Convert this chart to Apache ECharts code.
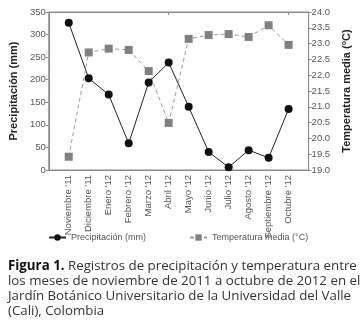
<!DOCTYPE html>
<html>
<head>
<meta charset="utf-8">
<script src="https://cdn.jsdelivr.net/npm/echarts@6/dist/echarts.min.js"></script>
<style>
  html, body { margin: 0; padding: 0; background: #fff; }
  #chart { width: 360px; height: 328px; }
</style>
</head>
<body>
<div id="chart"></div>
<script>
var months = ["Noviembre '11", "Diciembre '11", "Enero '12", "Febrero '12", "Marzo '12", "Abril '12",
              "Mayo '12", "Junio '12", "Julio '12", "Agosto '12", "Septiembre '12", "Octubre '12"];
var precipitacion = [326, 203, 167, 59, 194, 238, 140, 40, 6, 44, 27, 135];
var temperatura = [19.42, 22.72, 22.84, 22.80, 22.13, 20.49, 23.15, 23.27, 23.30, 23.21, 23.58, 22.96];

// one empty slot on each side, like the original plot
var xData = [''].concat(months, ['']);
var precData = [null].concat(precipitacion, [null]);
var tempData = [null].concat(temperatura, [null]);

var chart = echarts.init(document.getElementById('chart'));
var grey = '#8a8a8a';
var labelColor = '#555';

var option = {
  animation: false,
  textStyle: { fontFamily: 'Liberation Sans, Arial, sans-serif' },
  grid: { left: 40, right: 43, top: 12, bottom: 158, show: true, borderColor: grey, borderWidth: 1 },
  legend: {
    bottom: 81, left: 43, itemGap: 43, itemWidth: 17, itemHeight: 8,
    textStyle: { fontSize: 9, color: labelColor },
    data: ['Precipitación (mm)', 'Temperatura media (°C)']
  },
  xAxis: [{
    type: 'category', data: xData, boundaryGap: false,
    axisLine: { lineStyle: { color: grey } },
    axisTick: { show: false },
    axisLabel: { rotate: 90, fontSize: 9.5, color: labelColor, interval: 0, margin: 5 }
  }, {
    type: 'category', data: xData, boundaryGap: false, position: 'top',
    axisLine: { lineStyle: { color: grey } },
    axisTick: { inside: true, length: 3, lineStyle: { color: grey } },
    axisLabel: { show: false }
  }],
  yAxis: [{
    type: 'value', min: 0, max: 350, interval: 50,
    name: 'Precipitación (mm)', nameLocation: 'middle', nameGap: 22,
    nameTextStyle: { fontSize: 11, fontWeight: 'bold', color: '#222' },
    axisLine: { show: true, lineStyle: { color: grey } },
    axisTick: { show: true, length: 3, lineStyle: { color: grey } },
    axisLabel: { fontSize: 9.5, color: labelColor, margin: 3 },
    splitLine: { show: false }
  }, {
    type: 'value', min: 19, max: 24, interval: 0.5, position: 'right',
    name: 'Temperatura media (°C)', nameLocation: 'middle', nameGap: 25,
    nameTextStyle: { fontSize: 11, fontWeight: 'bold', color: '#222' },
    axisLine: { show: true, lineStyle: { color: grey } },
    axisTick: { show: true, length: 3, lineStyle: { color: grey } },
    axisLabel: { fontSize: 9.5, color: labelColor, margin: 3, formatter: function (v) { return v.toFixed(1); } },
    splitLine: { show: false }
  }],
  series: [{
    name: 'Precipitación (mm)', type: 'line', yAxisIndex: 0, data: precData,
    symbol: 'circle', symbolSize: 8,
    itemStyle: { color: '#111' },
    lineStyle: { color: '#222', width: 1 }
  }, {
    name: 'Temperatura media (°C)', type: 'line', yAxisIndex: 1, data: tempData,
    symbol: 'rect', symbolSize: 8,
    itemStyle: { color: '#808080' },
    lineStyle: { color: '#999', width: 1, type: [4, 3] }
  }],
  title: {
    left: 3, top: 254,
    text: '{b|Figura 1.} Registros de precipitación y temperatura entre\n' +
          'los meses de noviembre de 2011 a octubre de 2012 en el\n' +
          'Jardín Botánico Universitario de la Universidad del Valle\n' +
          '(Cali), Colombia',
    textStyle: {
      fontFamily: 'Open Sans', fontSize: 13.3, fontWeight: 'normal', color: '#333', lineHeight: 15,
      rich: { b: { fontFamily: 'Open Sans', fontSize: 13.3, fontWeight: 'bold', color: '#111', lineHeight: 15 } }
    }
  }
};
chart.setOption(option);
</script>
</body>
</html>
